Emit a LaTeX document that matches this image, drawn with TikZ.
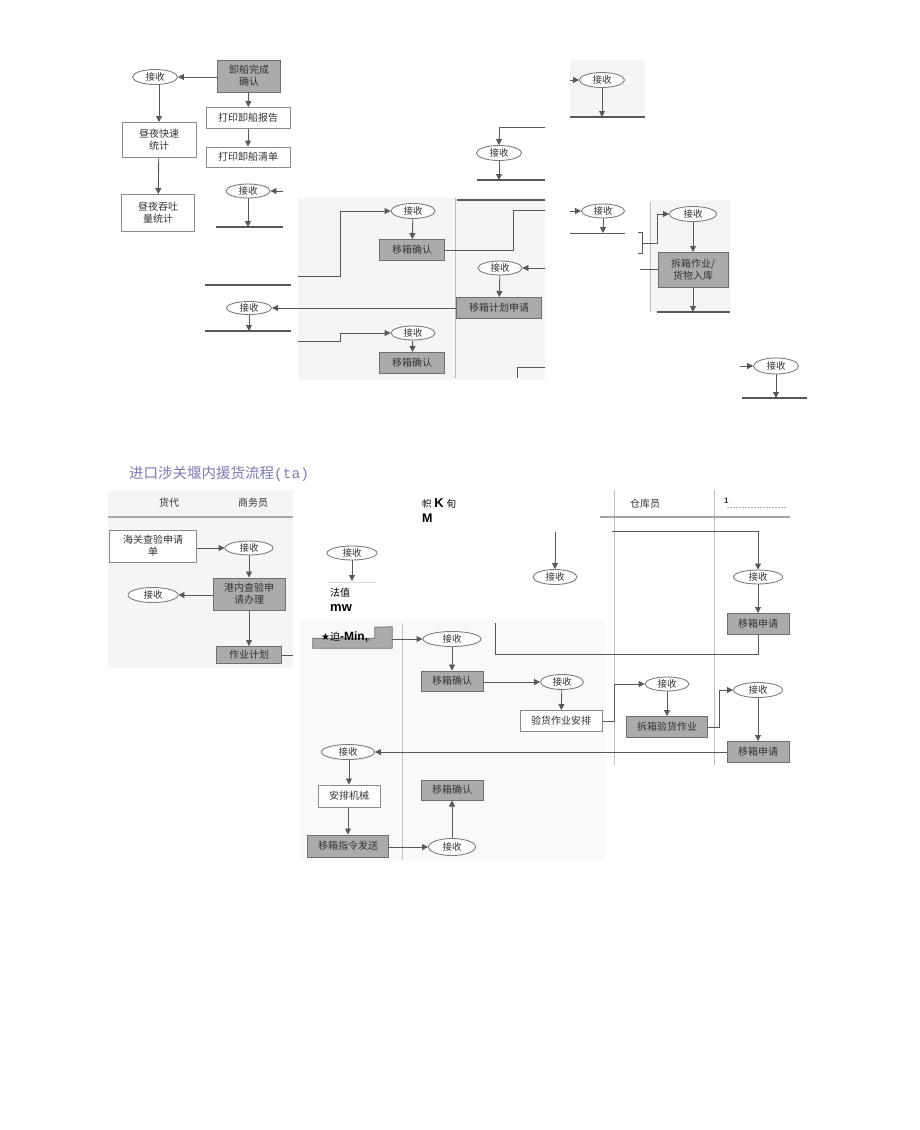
\documentclass[tikz,border=0pt]{standalone}
\usepackage{fontspec}
\setmainfont{Liberation Sans}
\newfontfamily\cjk{Noto Sans CJK SC}
\newfontfamily\dejavu{DejaVu Sans}
\newfontfamily\monof{Liberation Mono}
\usetikzlibrary{shapes.geometric,arrows.meta}
\definecolor{boxg}{HTML}{ABABAB}
\definecolor{edgec}{HTML}{6E6E6E}
\definecolor{linc}{HTML}{585858}
\definecolor{txtc}{HTML}{333333}
\definecolor{palec}{HTML}{F5F5F5}
\definecolor{titlec}{HTML}{7A7AB4}
\definecolor{lanec}{HTML}{BDBDBD}
\tikzset{
  gbox/.style={rectangle,draw=edgec,fill=boxg,line width=1pt,text=txtc,inner sep=0pt,align=center,
    font=\cjk\fontsize{10}{12}\selectfont},
  wbox/.style={rectangle,draw=edgec!80,fill=white,line width=1pt,text=txtc,inner sep=0pt,align=center,
    font=\cjk\fontsize{10}{12}\selectfont},
  recv/.style={ellipse,draw=edgec!90,fill=white,line width=0.9pt,text=txtc,inner sep=0pt,
    minimum width=45pt,minimum height=15pt,font=\cjk\fontsize{9.5}{10}\selectfont},
  arr/.style={draw=linc,line width=0.9pt,-{Triangle[length=6pt,width=6pt]}},
  conn/.style={draw=linc,line width=0.9pt},
  bar/.style={draw=linc,line width=1.3pt},
  laneln/.style={draw=lanec,line width=1pt},
  hdrln/.style={draw=gray!70,line width=1.6pt},
  hdr/.style={text=txtc,font=\cjk\fontsize{10}{11}\selectfont,inner sep=0pt},
  ocr/.style={text=black,inner sep=0pt,align=left,anchor=north west}
}
\begin{document}
\begin{tikzpicture}[x=1pt,y=-1pt]
\useasboundingbox (0,0) rectangle (920,1130);
% ---------- pale panels ----------
\fill[palec] (298,198) rectangle (545,380);
\fill[palec] (570,60) rectangle (645,117);
\fill[palec] (650,200) rectangle (730,312);
\fill[palec] (108,490) rectangle (293,668);
\fill[palec!60!white] (300,620) rectangle (605,860);

% ---------- top left ----------
\node[recv] (r1) at (155,77) {接收};
\node[wbox,minimum width=74,minimum height=35] (b1) at (159,140) {昼夜快速\\统计};
\node[wbox,minimum width=73,minimum height=37] (b2) at (158,213) {昼夜吞吐\\量统计};
\node[gbox,minimum width=63,minimum height=32] (b3) at (249,76) {卸船完成\\确认};
\node[wbox,minimum width=84,minimum height=21] (b4) at (248,118) {打印卸船报告};
\node[wbox,minimum width=84,minimum height=20] (b5) at (248,157) {打印卸船清单};
\draw[arr] (b3.west |- r1.east) -- (r1.east);
\draw[arr] (r1.south -| b1.north) -- (b1.north);
\draw[arr] (b1) -- (b2);
\draw[arr] (b3) -- (b4);
\draw[arr] (b4) -- (b5);

\node[recv,minimum width=44,minimum height=14] (r2) at (248,191) {接收};
\coordinate (i2) at (283,191);
\draw[arr] (i2) -- (r2.east);
\coordinate (bl1) at (216,227);
\coordinate (br1) at (283,227);
\draw[bar] (bl1) -- (br1);
\draw[arr] (r2.south) -- (r2.south |- bl1);

\coordinate (bl2) at (205,285);
\coordinate (br2) at (291,285);
\draw[bar] (bl2) -- (br2);
\node[recv,minimum width=45,minimum height=13] (r3) at (249,308) {接收};
\coordinate (bl3) at (205,331);
\coordinate (br3) at (291,331);
\draw[bar] (bl3) -- (br3);
\draw[arr] (r3.south) -- (r3.south |- bl3);

% ---------- top middle ----------
\draw[laneln] (455,198) -- (455,378);
\node[recv,minimum width=44,minimum height=15] (r4) at (413,211) {接收};
\node[gbox,minimum width=65,minimum height=21] (b6) at (412,250) {移箱确认};
\coordinate (s1) at (298,276);
\draw[arr] (s1) -- ++(42,0) |- (r4.west);
\draw[arr] (r4) -- (b6);
\coordinate (e1) at (545,210);
\draw[conn] (b6.east) -- ++(68,0) |- (e1);
\coordinate (h1a) at (457,200);
\coordinate (h1b) at (545,200);
\draw[bar] (h1a) -- (h1b);

\node[recv,minimum width=45,minimum height=15] (r5) at (499,153) {接收};
\coordinate (e2) at (545,127);
\draw[arr] (e2) -| (r5.north);
\coordinate (h2a) at (477,180);
\coordinate (h2b) at (545,180);
\draw[bar] (h2a) -- (h2b);
\draw[arr] (r5.south) -- (r5.south |- h2a);

\node[recv,minimum width=44,minimum height=14] (r6) at (500,268) {接收};
\coordinate (e3) at (545,268);
\draw[arr] (e3) -- (r6.east);
\node[gbox,minimum width=85,minimum height=21] (b8) at (499,308) {移箱计划申请};
\draw[arr] (r6) -- (b8);
\draw[arr] (b8.west) -- (r3.east);

\node[recv,minimum width=44,minimum height=14] (r7) at (413,333) {接收};
\node[gbox,minimum width=65,minimum height=21] (b9) at (412,363) {移箱确认};
\coordinate (s2) at (298,341);
\draw[arr] (s2) -- ++(42,0) |- (r7.west);
\draw[arr] (r7) -- (b9);
\coordinate (c3) at (517,378);
\coordinate (e4) at (545,367);
\draw[conn] (c3) |- (e4);

% ---------- top right ----------
\node[recv,minimum width=45,minimum height=15] (r8) at (602,80) {接收};
\coordinate (i8) at (570,80);
\draw[arr] (i8) -- (r8.west);
\coordinate (bl8) at (570,117);
\coordinate (br8) at (645,117);
\draw[bar] (bl8) -- (br8);
\draw[arr] (r8.south) -- (r8.south |- bl8);

\node[recv,minimum width=43,minimum height=14] (r9) at (603,211) {接收};
\coordinate (i9) at (570,211);
\draw[arr] (i9) -- (r9.west);
\coordinate (bl9) at (570,233);
\coordinate (br9) at (625,233);
\draw[conn] (bl9) -- (br9);
\draw[arr] (r9.south) -- (r9.south |- bl9);

\draw[laneln] (650,202) -- (650,312);
\draw[conn] (638,232) -- (642,232) -- (642,253) -- (638,253);
\node[recv,minimum width=47,minimum height=15] (r10) at (693,214) {接收};
\node[gbox,minimum width=70,minimum height=35] (b10) at (693,270) {拆箱作业/\\货物入库};
\coordinate (k1) at (642,243);
\draw[arr] (k1) -- ++(15,0) |- (r10.west);
\draw[arr] (r10) -- (b10);
\coordinate (k2) at (640,269);
\draw[conn] (k2) -- (b10.west |- k2);
\coordinate (bl10) at (657,312);
\coordinate (br10) at (730,312);
\draw[bar] (bl10) -- (br10);
\draw[arr] (b10.south) -- (b10.south |- bl10);

\node[recv,minimum width=45,minimum height=16] (r11) at (776,366) {接收};
\coordinate (i11) at (740,366);
\draw[arr] (i11) -- (r11.west);
\coordinate (bl11) at (742,398);
\coordinate (br11) at (807,398);
\draw[bar] (bl11) -- (br11);
\draw[arr] (r11.south) -- (r11.south |- bl11);

% ---------- title ----------
\node[anchor=west,text=titlec,inner sep=0pt,font=\cjk\fontsize{14.5}{16}\selectfont] (title) at (129,474) {进口涉关堰内援货流程{\monof(ta)}};

% ---------- bottom left ----------
\node[hdr] (hd1) at (169,503) {货代};
\node[hdr] (hd2) at (253,503) {商务员};
\coordinate (hl1) at (108,517);
\coordinate (hl2) at (293,517);
\draw[hdrln] (hl1) -- (hl2);
\node[wbox,minimum width=87,minimum height=32] (b11) at (153,546) {海关查验申请\\单};
\node[recv,minimum width=48,minimum height=14] (r12) at (249,548) {接收};
\node[gbox,minimum width=72,minimum height=32] (b12) at (249,594) {港内查验申\\请办理};
\node[recv,minimum width=50,minimum height=15] (r13) at (153,595) {接收};
\node[gbox,minimum width=65,minimum height=17] (b13) at (249,655) {作业计划};
\draw[arr] (b11.east |- r12.west) -- (r12.west);
\draw[arr] (r12) -- (b12);
\draw[arr] (b12.west |- r13.east) -- (r13.east);
\draw[arr] (b12) -- (b13);
\coordinate (o13) at (293,655);
\draw[conn] (b13.east) -- (o13);

% ---------- bottom middle ----------
\node[ocr] (ocr1) at (422,498) {{\cjk\fontsize{9.5}{11}\selectfont 帜} {\bfseries\fontsize{13}{14}\selectfont K} {\cjk\fontsize{9.5}{11}\selectfont 旬}};
\node[ocr] (ocr1b) at (422,514) {\bfseries\fontsize{12.5}{13}\selectfont M};
\node[recv,minimum width=50,minimum height=14] (r14) at (352,553) {接收};
\coordinate (d14) at (352,581);
\draw[draw=gray!25,line width=0.8pt] (327,582) -- (377,582);
\draw[arr] (r14.south) -- (d14);
\node[ocr] (ocr2) at (330,588) {\cjk\fontsize{10}{11}\selectfont 法值};
\node[ocr] (ocr2b) at (330,604) {\bfseries\fontsize{13}{13}\selectfont mw};

\node[minimum width=79,minimum height=21,inner sep=0pt] (b14) at (352.5,637.5) {};
\fill[boxg,draw=edgec,line width=0.8pt] (b14.south west) -- ++(0,-10) -- ++(62,0) -- ++(0,-11) -- (b14.north east) -- (b14.south east) -- cycle;
\node[anchor=west,inner sep=0pt,text=black] (ocr3) at (321,637) {{\dejavu\fontsize{10}{11}\selectfont ★}{\cjk\fontsize{10}{11}\selectfont 迫}{\bfseries\fontsize{12}{13}\selectfont -Min,}{\fontsize{7}{8}\selectfont ,}};

\draw[laneln] (402,623) -- (402,860);
\node[recv,minimum width=58,minimum height=15] (r15) at (452,639) {接收};
\draw[arr] (b14.east |- r15.west) -- (r15.west);
\node[gbox,minimum width=62,minimum height=20] (b15) at (452,681) {移箱确认};
\draw[arr] (r15) -- (b15);
\node[recv,minimum width=43,minimum height=15] (r16) at (562,682) {接收};
\draw[arr] (b15.east |- r16.west) -- (r16.west);
\node[wbox,minimum width=82,minimum height=21] (b16) at (561,721) {验货作业安排};
\draw[arr] (r16) -- (b16);

% ---------- bottom right ----------
\draw[laneln] (614,490) -- (614,765);
\draw[laneln] (714,490) -- (714,765);
\node[hdr] (hd3) at (645,504) {仓库员};
\node[anchor=west,inner sep=0pt,font=\bfseries\fontsize{8}{9}\selectfont,text=txtc] (hd4) at (724,501) {1};
\draw[draw=gray!60,line width=0.8pt,dash pattern=on 2pt off 1pt] (727,507) -- (786,507);
\coordinate (hl3) at (600,517);
\coordinate (hl4) at (790,517);
\draw[hdrln] (hl3) -- (hl4);

\node[recv,minimum width=49,minimum height=14] (r21) at (758,577) {接收};
\coordinate (t1) at (612,531);
\draw[arr] (t1) -| (r21.north);
\node[gbox,minimum width=62,minimum height=21] (b22) at (758,624) {移箱申请};
\draw[arr] (r21) -- (b22);
\coordinate (u1) at (495,623);
\draw[conn] (b22.south) |- (495,654) -- (u1);

\node[recv,minimum width=44,minimum height=15] (r22) at (555,577) {接收};
\coordinate (t2) at (555,532);
\draw[arr] (t2) -- (r22.north);

\node[recv,minimum width=44,minimum height=14] (r17) at (667,684) {接收};
\draw[arr] (b16.east) -- ++(12,0) |- (r17.west);
\node[gbox,minimum width=81,minimum height=21] (b17) at (667,727) {拆箱验货作业};
\draw[arr] (r17) -- (b17);
\node[recv,minimum width=49,minimum height=15] (r18) at (758,690) {接收};
\draw[arr] (b17.east) -- ++(11,0) |- (r18.west);
\node[gbox,minimum width=62,minimum height=21] (b18) at (758,752) {移箱申请};
\draw[arr] (r18) -- (b18);

\node[recv,minimum width=53,minimum height=15] (r19) at (348,752) {接收};
\draw[arr] (b18.west) -- (r19.east);
\node[wbox,minimum width=62,minimum height=22] (b19) at (349,796) {安排机械};
\node[gbox,minimum width=81,minimum height=22] (b20) at (348,846) {移箱指令发送};
\node[recv,minimum width=47,minimum height=17] (r20) at (452,847) {接收};
\node[gbox,minimum width=62,minimum height=20] (b21) at (452,790) {移箱确认};
\draw[arr] (r19.south -| b19.north) -- (b19.north);
\draw[arr] (b19.south -| b20.north) -- (b20.north);
\draw[arr] (b20.east |- r20.west) -- (r20.west);
\draw[arr] (r20) -- (b21);
\end{tikzpicture}
\end{document}
